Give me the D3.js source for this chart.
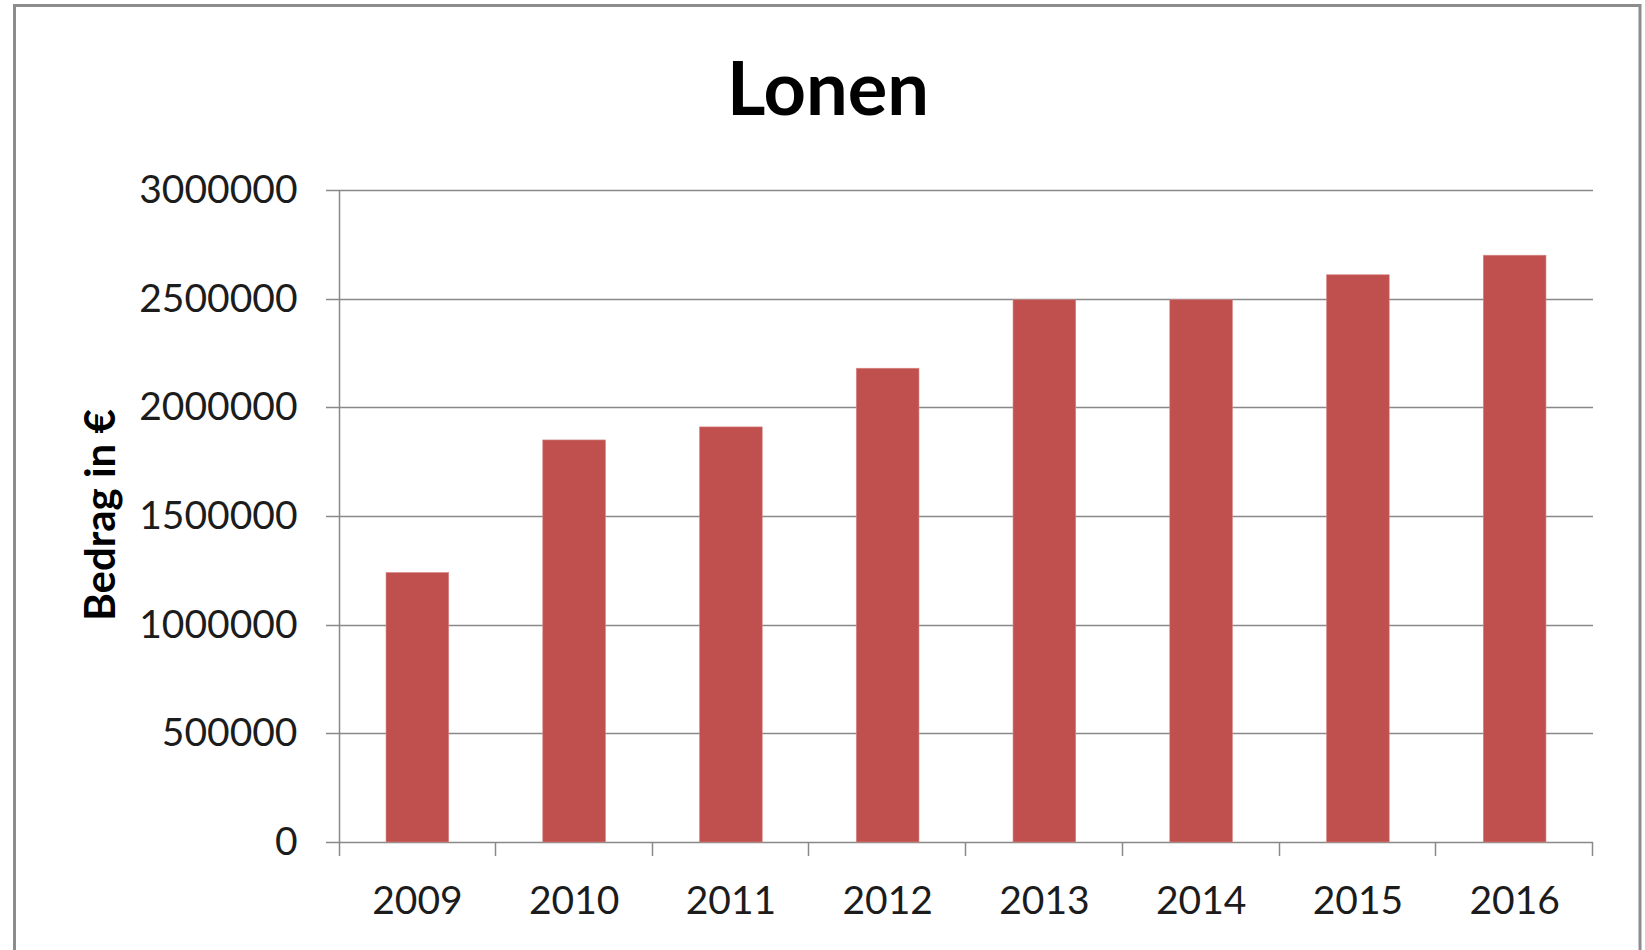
<!DOCTYPE html>
<html>
<head>
<meta charset="utf-8">
<script src="https://cdn.jsdelivr.net/npm/d3@7"></script>
<style>
  html, body { margin: 0; padding: 0; background: #fff; }
  #chart { width: 1645px; height: 950px; }
  text { font-family: Lato, "Open Sans", sans-serif; }
</style>
</head>
<body>
<div id="chart"></div>
<script>
// data
const years = ['2009', '2010', '2011', '2012', '2013', '2014', '2015', '2016'];
const lonen = [1240000, 1850000, 1910000, 2180000, 2495000, 2495000, 2610000, 2700000];
const yTicks = [0, 500000, 1000000, 1500000, 2000000, 2500000, 3000000];
const title = 'Lonen';
const yTitle = 'Bedrag in €';

const width = 1645, height = 950;
const plot = { left: 339, right: 1593, top: 190, bottom: 842 };
const gridColor = '#898989';

let svg = d3.select('#chart').append('svg')
  .attr('width', width)
  .attr('height', height);

svg.append('rect')
  .attr('width', width).attr('height', height)
  .attr('fill', '#fff');

// chart border (bottom edge runs off the picture)
svg.append('rect')
  .attr('x', 14.5).attr('y', 5.5)
  .attr('width', 1625.5).attr('height', 1000)
  .attr('fill', 'none')
  .attr('stroke', '#8c8c8c')
  .attr('stroke-width', 3);

let x = d3.scaleBand()
  .domain(years)
  .range([plot.left, plot.right])
  .paddingInner(0.6)
  .paddingOuter(0.3);

let y = d3.scaleLinear()
  .domain([0, 3000000])
  .range([plot.bottom, plot.top]);

// gridlines
svg.append('g')
  .selectAll('line')
  .data(yTicks)
  .enter().append('line')
  .attr('x1', plot.left - 13)
  .attr('x2', plot.right)
  .attr('y1', d => Math.round(y(d)) + 0.5)
  .attr('y2', d => Math.round(y(d)) + 0.5)
  .attr('stroke', gridColor)
  .attr('stroke-width', 1.5);

// bars
svg.append('g')
  .selectAll('rect')
  .data(lonen)
  .enter().append('rect')
  .attr('x', (d, i) => x(years[i]))
  .attr('y', d => y(d))
  .attr('width', x.bandwidth())
  .attr('height', d => y(0) - y(d))
  .attr('fill', '#c0504d')
  .attr('stroke', '#d88a88')
  .attr('stroke-width', 0.6);

// y axis
let yAxis = svg.append('g')
  .attr('transform', 'translate(' + (plot.left + 0.5) + ',0)')
  .call(d3.axisLeft(y).tickValues(yTicks).tickSize(0).tickPadding(42).tickFormat(d3.format('d')));
yAxis.select('.domain').remove();
yAxis.selectAll('text')
  .attr('fill', '#1c1c1c')
  .style('font-size', '39px');

svg.append('line')
  .attr('x1', plot.left + 0.5).attr('x2', plot.left + 0.5)
  .attr('y1', plot.top).attr('y2', plot.bottom + 14)
  .attr('stroke', gridColor)
  .attr('stroke-width', 1.5);

// x axis: labels centred, ticks between categories
let xAxis = svg.append('g')
  .attr('transform', 'translate(0,' + plot.bottom + ')')
  .call(d3.axisBottom(x).tickSize(0).tickPadding(44));
xAxis.select('.domain').remove();
xAxis.selectAll('text')
  .attr('fill', '#1c1c1c')
  .style('font-size', '39px');

let bounds = years.map(d => x(d) - x.step() * 0.3).concat([plot.right]);
svg.append('g')
  .selectAll('line')
  .data(bounds.slice(1))
  .enter().append('line')
  .attr('x1', d => Math.round(d) - 0.5)
  .attr('x2', d => Math.round(d) - 0.5)
  .attr('y1', plot.bottom)
  .attr('y2', plot.bottom + 14)
  .attr('stroke', gridColor)
  .attr('stroke-width', 1.5);

// titles
svg.append('text')
  .attr('x', 828)
  .attr('y', 115)
  .attr('text-anchor', 'middle')
  .style('font-size', '74px')
  .style('font-weight', 'bold')
  .attr('fill', '#000')
  .text(title);

svg.append('text')
  .attr('transform', 'translate(115,515) rotate(-90)')
  .attr('text-anchor', 'middle')
  .style('font-size', '42px')
  .style('font-weight', 'bold')
  .attr('fill', '#000')
  .text(yTitle);
</script>
</body>
</html>
